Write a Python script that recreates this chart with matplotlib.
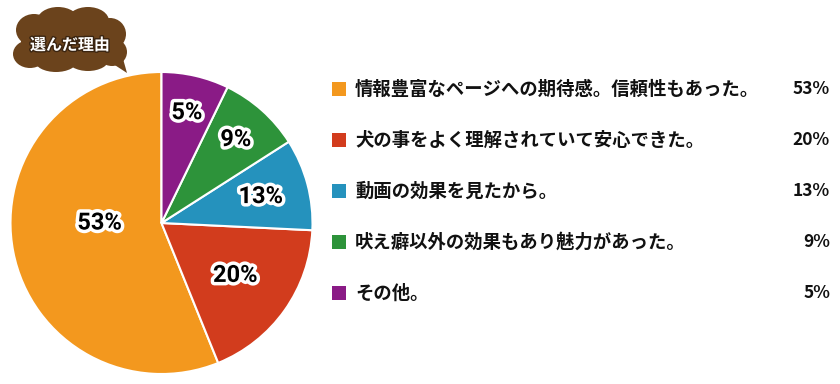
"""Pie chart: 選んだ理由 (reasons for choosing)."""

import matplotlib.pyplot as plt
import matplotlib.patheffects as pe
from matplotlib.patches import Ellipse, Polygon, Rectangle
import numpy as np

plt.rcParams['font.family'] = ['Noto Sans CJK JP', 'DejaVu Sans']

# data
reasons = ['情報豊富なページへの期待感。信頼性もあった。',
           '犬の事をよく理解されていて安心できた。',
           '動画の効果を見たから。',
           '吠え癖以外の効果もあり魅力があった。',
           'その他。']
pct_labels = [53, 20, 13, 9, 5]
# wedge sizes as actually drawn in the picture
wedge_sizes = [56.1, 18.1, 9.8, 8.75, 7.2]
colors = ['#f3981e', '#d23c1d', '#2592bd', '#2d933a', '#8a1b86']

W, H = 840, 384
fig = plt.figure(figsize=(W / 100, H / 100), dpi=100)

# pie: centre (161.5, 223) px, radius 151 px
cx, cy, r = 161.5, 223, 151
ax = fig.add_axes([(cx - r) / W, (H - cy - r) / H, 2 * r / W, 2 * r / H])
wedges, _ = ax.pie(wedge_sizes, colors=colors, startangle=90, counterclock=True,
                   radius=1, wedgeprops=dict(edgecolor='white', linewidth=1.5))
ax.set_xlim(-1, 1)
ax.set_ylim(-1, 1)
ax.set_aspect('equal')
ax.axis('off')

label_dist = [0.41, 0.60, 0.68, 0.74, 0.75]
stroke = [pe.withStroke(linewidth=5, foreground='white')]
for w, p, d in zip(wedges, pct_labels, label_dist):
    mid = np.deg2rad((w.theta1 + w.theta2) / 2)
    if p == 53:
        mid = np.deg2rad(180)
    ax.text(d * np.cos(mid), d * np.sin(mid), f'{p}%', ha='center', va='center',
            fontsize=17, fontweight='bold', family='Roboto', color='black',
            path_effects=stroke)

# overlay in pixel coordinates for legend and bubble
ov = fig.add_axes([0, 0, 1, 1], zorder=5)
ov.set_xlim(0, W)
ov.set_ylim(H, 0)
ov.axis('off')
ov.patch.set_alpha(0)

row_y0, row_step = 89, 51
for i, (txt, p, c) in enumerate(zip(reasons, pct_labels, colors)):
    y = row_y0 + i * row_step
    ov.add_patch(Rectangle((332, y - 7), 14, 14, color=c, lw=0))
    ov.text(355, y, txt, ha='left', va='center', fontsize=13.2, fontweight='bold',
            color='#111111')
    ov.text(830, y, f'{p}%', ha='right', va='center', fontsize=12.5,
            fontweight='bold', color='#111111')

# speech cloud
brown = '#6b431c'
for (ex, ey, ew, eh) in [(70, 42, 98, 48), (34, 30, 36, 32), (58, 21, 42, 28),
                         (88, 21, 42, 28), (110, 34, 32, 32), (30, 54, 34, 28),
                         (56, 61, 42, 22), (88, 59, 42, 24), (112, 52, 30, 28)]:
    ov.add_patch(Ellipse((ex, ey), ew, eh, color=brown, lw=0))
ov.add_patch(Polygon([(104, 58), (127, 73), (120, 48)], closed=True, color=brown, lw=0))
ov.text(70, 45, '選んだ理由', ha='center', va='center', fontsize=11.5,
        fontweight='bold', color='white',
        path_effects=[pe.withStroke(linewidth=2, foreground='#3a2410')])

fig.savefig('out.png', dpi=100)
